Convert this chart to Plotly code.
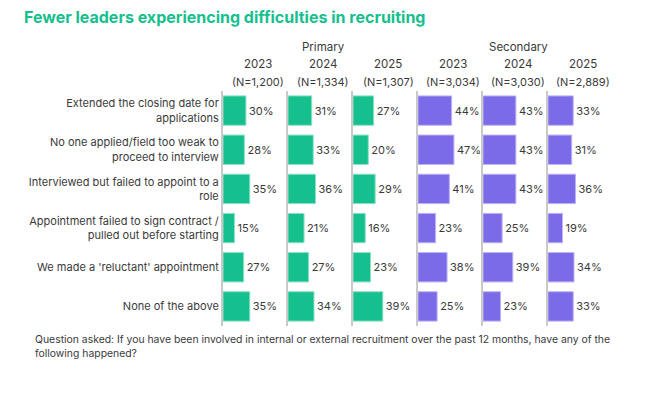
import plotly.graph_objects as go

categories = [
    "Extended the closing date for<br>applications",
    "No one applied/field too weak to<br>proceed to interview",
    "Interviewed but failed to appoint to a<br>role",
    "Appointment failed to sign contract /<br>pulled out before starting",
    "We made a 'reluctant' appointment",
    "None of the above",
]
groups = ["Primary", "Primary", "Primary", "Secondary", "Secondary", "Secondary"]
years = ["2023", "2024", "2025", "2023", "2024", "2025"]
sample_sizes = ["(N=1,200)", "(N=1,334)", "(N=1,307)", "(N=3,034)", "(N=3,030)", "(N=2,889)"]

primary_2023 = [30, 28, 35, 15, 27, 35]
primary_2024 = [31, 33, 36, 21, 27, 34]
primary_2025 = [27, 20, 29, 16, 23, 39]
secondary_2023 = [44, 47, 41, 23, 38, 25]
secondary_2024 = [43, 43, 43, 25, 39, 23]
secondary_2025 = [33, 31, 36, 19, 34, 33]

series = [primary_2023, primary_2024, primary_2025,
          secondary_2023, secondary_2024, secondary_2025]

GREEN = "#16bf8e"
PURPLE = "#7b6be9"
GREEN_EDGE = "#8fe0c6"
PURPLE_EDGE = "#bdb3f5"
TEXT = "#3a3a3a"
FONT = "Inter, Roboto, sans-serif"

W, H = 657, 398
panel_left = [223, 288, 353, 418, 483, 548]
panel_w = 65
y_top, y_bot = 91, 326

fig = go.Figure()
for i, vals in enumerate(series):
    n = i + 1
    suffix = "" if n == 1 else str(n)
    is_primary = groups[i] == "Primary"
    fig.add_trace(go.Bar(
        x=vals, y=categories, orientation="h",
        xaxis="x" + suffix, yaxis="y" + suffix,
        marker=dict(color=GREEN if is_primary else PURPLE,
                    line=dict(color=GREEN_EDGE if is_primary else PURPLE_EDGE, width=1)),
        text=[f"{v}%" for v in vals], textposition="outside",
        textfont=dict(size=11, color=TEXT, family=FONT),
        cliponaxis=False, showlegend=False, hoverinfo="skip",
    ))
    x0 = panel_left[i] / W
    x1 = (panel_left[i] + panel_w) / W
    fig.update_layout(**{
        "xaxis" + suffix: dict(domain=[x0, x1], range=[0, 85], visible=False,
                               anchor="y" + suffix, fixedrange=True),
        "yaxis" + suffix: dict(domain=[(H - y_bot) / H, (H - y_top) / H],
                               anchor="x" + suffix, autorange="reversed",
                               categoryorder="array", categoryarray=categories,
                               showline=True, linecolor="#c9c9c9", linewidth=2,
                               showgrid=False, zeroline=False, ticks="",
                               showticklabels=(n == 1), ticklabelstandoff=0,
                               fixedrange=True,
                               tickfont=dict(size=11, color=TEXT, family=FONT)),
    })
    # column headers
    fig.add_annotation(xref="x" + suffix + " domain", yref="paper", x=0.54,
                       y=(H - 64) / H, text=years[i], showarrow=False,
                       xanchor="center", yanchor="middle",
                       font=dict(size=11.5, color=TEXT, family=FONT))
    fig.add_annotation(xref="x" + suffix + " domain", yref="paper", x=0.54,
                       y=(H - 82) / H, text=sample_sizes[i], showarrow=False,
                       xanchor="center", yanchor="middle",
                       font=dict(size=11, color=TEXT, family=FONT))

fig.add_annotation(xref="x2 domain", yref="paper", x=0.54, y=(H - 47) / H,
                   text="Primary", showarrow=False, xanchor="center", yanchor="middle",
                   font=dict(size=11.5, color=TEXT, family=FONT))
fig.add_annotation(xref="x5 domain", yref="paper", x=0.54, y=(H - 47) / H,
                   text="Secondary", showarrow=False, xanchor="center", yanchor="middle",
                   font=dict(size=11.5, color=TEXT, family=FONT))

fig.add_annotation(xref="paper", yref="paper", x=22 / W, y=(H - 17) / H,
                   xanchor="left", yanchor="middle", showarrow=False,
                   text="<b>Fewer leaders experiencing difficulties in recruiting</b>",
                   font=dict(size=16, color="#16bf8e", family=FONT))

fig.add_annotation(xref="paper", yref="paper", x=33 / W, y=(H - 331) / H,
                   xanchor="left", yanchor="top", align="left", showarrow=False,
                   text="Question asked: If you have been involved in internal or external recruitment over the past 12 months, have any of the<br>following happened?",
                   font=dict(size=10.4, color=TEXT, family=FONT))

fig.update_layout(
    width=W, height=H, margin=dict(l=0, r=0, t=0, b=0),
    paper_bgcolor="white", plot_bgcolor="white",
    bargap=0.25, font=dict(family=FONT, color=TEXT),
)

fig.write_html("out.html", config={"displayModeBar": False},
               post_script="document.body.style.margin='0';document.body.style.overflow='hidden';")
